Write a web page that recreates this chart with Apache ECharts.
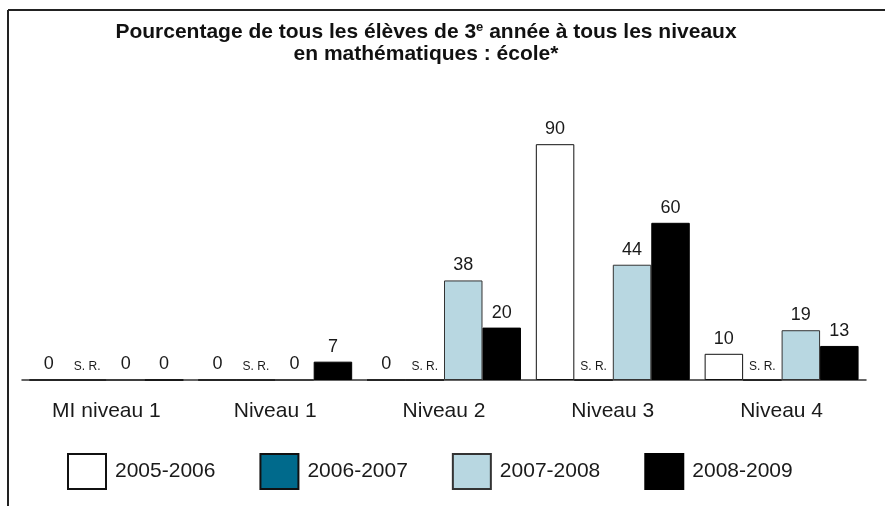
<!DOCTYPE html>
<html>
<head>
<meta charset="utf-8">
<script src="https://cdn.jsdelivr.net/npm/echarts@6/dist/echarts.min.js"></script>
<style>
  html, body { margin: 0; padding: 0; background: #fff; }
  #main { width: 885px; height: 506px; }
</style>
</head>
<body>
<div id="main"></div>
<script>
// niveaux
var categories = ['MI niveau 1', 'Niveau 1', 'Niveau 2', 'Niveau 3', 'Niveau 4'];
var years = ['2005-2006', '2006-2007', '2007-2008', '2008-2009'];
// pourcentages par année (2006-2007 = sans résultat)
var v2005 = [0, 0, 0, 90, 10];
var v2006 = [0, 0, 0, 0, 0];
var v2007 = [0, 0, 38, 44, 19];
var v2008 = [0, 7, 20, 60, 13];

var font = 'Liberation Sans, Arial, sans-serif';

function valLabel(fmt, size, dist) {
  return {
    show: true,
    position: 'top',
    distance: dist,
    color: '#1a1a1a',
    fontFamily: font,
    fontSize: size,
    formatter: fmt
  };
}

var myChart = echarts.init(document.getElementById('main'));
var option = {
  backgroundColor: '#fff',
  animation: false,
  title: {
    text: 'Pourcentage de tous les élèves de 3{sup|e} année à tous les niveaux\nen mathématiques : école*',
    left: 426,
    top: 21,
    padding: 0,
    textAlign: 'center',
    textStyle: {
      fontFamily: font,
      fontWeight: 'bold',
      fontSize: 21,
      color: '#111',
      lineHeight: 22,
      rich: {
        sup: { fontFamily: font, fontWeight: 'bold', fontSize: 13, color: '#111', padding: [0, 0, 10, 0] }
      }
    }
  },
  legend: {
    data: years,
    left: 67,
    top: 453,
    padding: 0,
    itemWidth: 38,
    itemHeight: 35,
    itemGap: 44,
    icon: 'rect',
    textStyle: { fontFamily: font, fontSize: 21, color: '#1a1a1a', padding: [0, 0, 0, 4] }
  },
  grid: { left: 22, right: 19, top: 118, bottom: 126 },
  xAxis: {
    type: 'category',
    data: categories,
    axisLine: { lineStyle: { color: '#333', width: 1.5 } },
    axisTick: { show: false },
    axisLabel: { fontFamily: font, fontSize: 21, color: '#1a1a1a', margin: 21 }
  },
  yAxis: {
    type: 'value',
    min: 0,
    max: 100,
    show: false,
    splitLine: { show: false }
  },
  series: [
    {
      name: years[0], type: 'bar', data: v2005,
      barGap: 0, barCategoryGap: '8.8%',
      itemStyle: { color: '#ffffff', borderColor: '#111', borderWidth: 1 },
      label: valLabel('{c}', 18, 6)
    },
    {
      name: years[1], type: 'bar', data: v2006,
      itemStyle: { color: '#006a8c', borderColor: '#111', borderWidth: 1 },
      label: valLabel('S. R.', 12, 7)
    },
    {
      name: years[2], type: 'bar', data: v2007,
      itemStyle: { color: '#b8d7e1', borderColor: '#333', borderWidth: 1 },
      label: valLabel('{c}', 18, 6)
    },
    {
      name: years[3], type: 'bar', data: v2008,
      itemStyle: { color: '#000000', borderColor: '#000', borderWidth: 1 },
      label: valLabel('{c}', 18, 6)
    }
  ],
  graphic: [
    { type: 'line', shape: { x1: 8, y1: 10, x2: 885, y2: 10 }, style: { stroke: '#222', lineWidth: 2 } },
    { type: 'line', shape: { x1: 8, y1: 10, x2: 8, y2: 506 }, style: { stroke: '#222', lineWidth: 2 } }
  ]
};
myChart.setOption(option);
</script>
</body>
</html>
